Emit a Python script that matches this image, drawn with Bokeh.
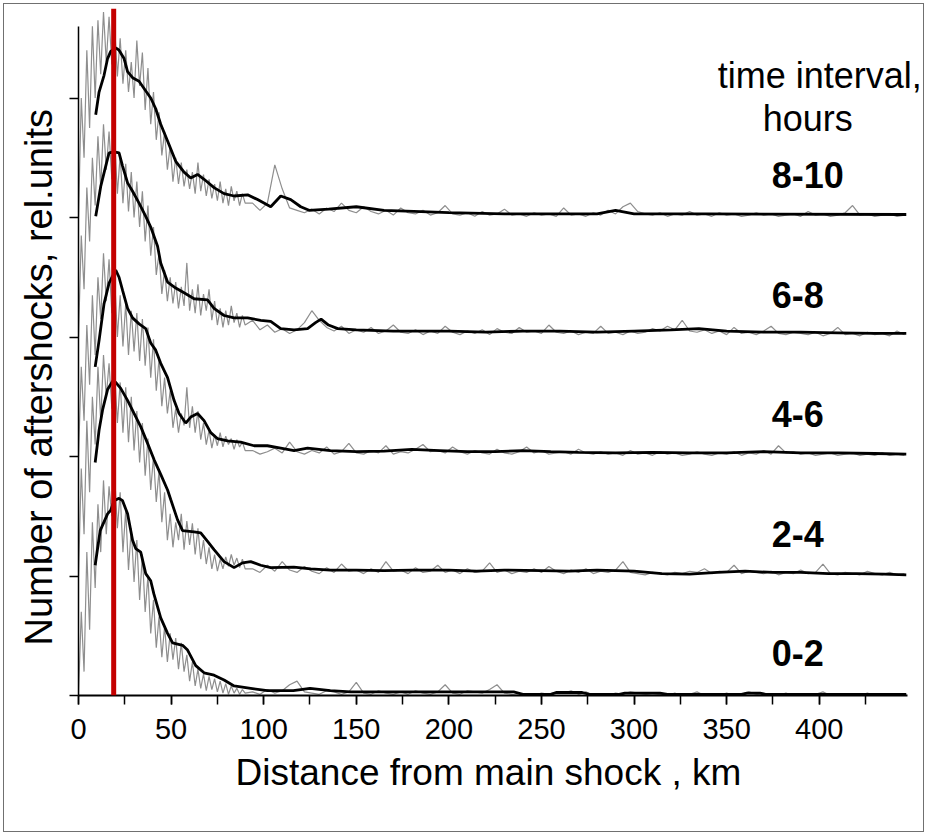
from bokeh.plotting import figure
from bokeh.layouts import column
from bokeh.models import Range1d, FixedTicker, Span, Label, Title, CustomJSTickFormatter
from bokeh.embed import file_html
from bokeh.resources import INLINE

# ---------------- data ----------------
INTERVALS = ["0-2", "2-4", "4-6", "6-8", "8-10"]
X_TICKS = [0, 50, 100, 150, 200, 250, 300, 350, 400]
X_MINOR = [0, 25, 50, 75, 100, 125, 150, 175, 200, 225, 250, 275, 300, 325, 350, 375, 400, 425]
Y_TICKS = [0, 1, 2, 3, 4, 5]
RED_KM = 19  # marked distance

# raw histograms (grey), values in hundredths of rel. units above each curve's baseline
GRAY_PEAK_KM = [i * 1.5 for i in range(61)]
GRAY_TAIL_KM = [94 + 4 * j for j in range(89)]

G0_PEAK = [0,70,20,120,55,145,90,160,120,180,135,175,150,185,140,170,120,155,105,140,95,130,80,118,70,100,52,80,40,66,32,58,28,52,30,48,22,44,20,34,12,28,8,22,6,18,4,16,5,14,3,12,2,10,1,8,2,6,1,5,2]
G0_TAIL = [3,1,5,2,4,9,12,3,2,1,4,3,1,3,11,2,1,4,2,1,3,1,4,2,1,3,9,2,1,4,3,2,5,9,2,1,0,1,0,2,1,3,2,4,1,3,0,1,0,2,1,3,2,1,0,1,0,2,0,1,3,0,1,0,2,0,1,3,1,0,1,0,2,0,1,0,1,3,0,1,0,1,0,2,0,1,0,1,0]
G1_PEAK = [0,90,35,130,70,150,110,175,130,185,150,178,140,170,128,162,120,158,112,150,105,138,95,128,84,115,72,100,62,88,45,70,30,52,24,45,30,52,22,46,26,44,18,40,14,30,10,24,6,18,4,14,6,16,8,18,9,15,7,14,6]
G1_TAIL = [6,3,9,4,12,5,3,8,4,2,7,3,10,4,5,2,6,3,12,4,5,2,7,3,4,9,3,5,2,6,3,4,11,3,5,2,4,3,6,3,8,4,2,5,3,6,2,4,3,5,12,3,2,1,3,2,1,3,2,4,3,6,2,4,3,9,2,4,3,2,4,1,3,2,5,2,3,10,2,1,3,2,1,4,2,1,3,1,2]
G2_PEAK = [0,75,30,110,60,135,85,150,115,170,130,165,120,150,100,135,92,128,85,122,88,120,80,115,76,108,66,98,55,82,42,66,36,55,24,40,20,36,26,58,24,42,20,38,14,28,10,22,7,18,9,20,8,17,10,15,6,14,8,12,5]
G2_TAIL = [5,2,4,7,3,12,4,2,5,3,8,2,4,11,3,2,5,3,9,2,4,3,6,10,4,5,3,8,4,2,5,3,2,6,3,2,4,8,3,5,2,3,4,2,6,3,2,4,2,3,1,5,2,3,1,4,2,3,1,2,4,2,1,3,2,4,1,3,2,5,2,9,3,4,2,3,1,2,3,1,2,3,1,2,1,3,1,2,1]
G3_PEAK = [0,85,40,125,80,150,110,168,125,178,140,172,132,165,120,152,112,145,105,138,100,130,92,122,80,110,68,92,52,70,36,56,30,50,28,46,24,42,26,62,22,40,20,44,18,36,22,40,14,30,10,24,8,22,10,26,12,20,8,18,10]
G3_TAIL = [14,6,10,4,7,3,6,12,22,14,8,5,9,3,6,4,8,3,5,10,4,3,6,2,5,3,9,4,2,5,3,6,2,7,4,3,8,4,5,3,10,4,3,5,2,4,3,9,3,4,2,5,3,4,7,5,9,6,14,5,4,6,3,5,2,8,3,4,2,5,9,3,2,4,3,2,4,1,3,8,2,3,1,4,2,3,1,5,2]
G4_PEAK = [0,100,50,140,75,160,100,165,120,172,130,168,128,160,118,150,112,140,105,130,100,148,110,138,90,125,78,105,65,88,52,72,40,60,30,50,28,46,26,40,24,38,20,46,22,36,18,32,16,28,14,30,12,24,10,26,14,22,10,20,12]
G4_TAIL = [12,6,12,44,24,8,6,4,7,3,8,5,12,6,4,9,5,3,6,2,8,4,3,6,2,4,10,3,2,4,1,5,2,3,7,2,3,1,4,2,3,1,8,2,3,1,4,2,6,3,9,12,5,3,2,4,1,3,2,5,2,3,1,4,2,3,1,2,4,2,3,1,2,3,1,5,2,3,1,2,4,10,2,3,1,2,3,1,2]

# smoothed curves (black), km and rel. units above baseline
B0_KM = [9,11.7,15.7,17.4,19.2,21.9,23.8,26.5,29.2,30.9,33.6,36.3,39,40.7,44.4,48.1,50.8,56.2,58.9,63.3,67.8,73.2,78.6,84,93,102,116,125,136,147,180,210,235,240,255,258,272,276,292,295,314,318,358,361,368,371,447]
B0_VAL = [1.09,1.38,1.52,1.55,1.63,1.65,1.63,1.52,1.30,1.23,1.20,1.02,0.96,0.85,0.65,0.52,0.44,0.42,0.38,0.25,0.19,0.17,0.13,0.08,0.06,0.04,0.04,0.06,0.04,0.03,0.03,0.03,0.03,0.01,0.01,0.025,0.025,0.01,0.01,0.02,0.02,0.01,0.01,0.02,0.02,0.01,0.01]
B1_KM = [9,11.1,13,15.7,18.4,20.1,22.8,26.5,30,33.6,37.3,40.9,44.4,48.1,49.8,53.5,56.2,62.4,66,69.7,73.2,78.6,84,88.6,93,98.4,103.8,116.3,125.4,136,150,165,180,200,215,230,250,265,280,300,315,330,345,360,375,390,405,420,435,447]
B1_VAL = [0.95,1.22,1.39,1.56,1.63,1.62,1.57,1.47,1.36,1.25,1.11,0.97,0.85,0.72,0.64,0.47,0.38,0.37,0.36,0.29,0.22,0.12,0.07,0.11,0.12,0.09,0.07,0.075,0.06,0.05,0.05,0.045,0.05,0.05,0.04,0.05,0.045,0.04,0.05,0.04,0.02,0.015,0.03,0.04,0.03,0.03,0.02,0.02,0.015,0.01]
B2_KM = [9,11.1,13.8,16.5,18.4,20.1,21.9,23.8,26.5,29.2,32.7,36.3,39,41.7,44.4,48.1,51.6,54.3,57.9,60.6,64.3,67.8,71.4,75,80.5,87.6,94.8,102,109.2,116.4,123.7,136,150,165,180,195,210,225,240,255,270,290,310,330,350,370,390,410,430,447]
B2_VAL = [0.75,0.97,1.28,1.45,1.51,1.56,1.50,1.39,1.24,1.16,1.11,1.07,0.95,0.89,0.78,0.66,0.47,0.36,0.28,0.33,0.36,0.30,0.20,0.15,0.13,0.12,0.09,0.09,0.07,0.05,0.07,0.05,0.04,0.045,0.06,0.05,0.04,0.04,0.05,0.04,0.035,0.03,0.035,0.03,0.03,0.04,0.03,0.03,0.025,0.02]
B3_KM = [9.3,12,14.7,16.5,19.2,21.9,23.8,26.5,29.2,32.7,36.3,39,42.7,44.4,48.1,52.5,57,62.4,69.7,73.2,78.6,84,91.3,98.4,103.8,109.2,116.4,123.7,128,131,135,140,150,170,200,220,240,260,280,300,320,335,350,370,390,410,430,447]
B3_VAL = [1.01,1.26,1.43,1.54,1.55,1.54,1.43,1.29,1.22,1.12,1.01,0.92,0.76,0.62,0.46,0.41,0.37,0.32,0.31,0.24,0.18,0.16,0.16,0.14,0.13,0.07,0.06,0.07,0.12,0.15,0.10,0.07,0.06,0.05,0.05,0.04,0.05,0.05,0.04,0.05,0.06,0.07,0.05,0.04,0.04,0.035,0.03,0.03]
B4_KM = [9.3,11.1,13.8,15.7,17.4,20.1,21.9,24.6,26.5,29.2,32.7,35.4,39,41.7,44.4,48.1,52.5,57,60.6,64.3,67.8,73.2,78.6,84,91.3,96.7,103.8,109.2,114.6,120,124.5,135,150,165,185,200,230,280,290,300,340,447]
B4_VAL = [0.86,1.05,1.19,1.33,1.39,1.42,1.40,1.33,1.22,1.17,1.14,1.08,1.00,0.91,0.78,0.64,0.47,0.38,0.33,0.36,0.32,0.25,0.20,0.18,0.19,0.15,0.09,0.18,0.15,0.09,0.06,0.07,0.09,0.06,0.05,0.04,0.03,0.03,0.06,0.03,0.03,0.025]

GRAY = [(G0_PEAK, G0_TAIL), (G1_PEAK, G1_TAIL), (G2_PEAK, G2_TAIL), (G3_PEAK, G3_TAIL), (G4_PEAK, G4_TAIL)]
BLACK = [(B0_KM, B0_VAL), (B1_KM, B1_VAL), (B2_KM, B2_VAL), (B3_KM, B3_VAL), (B4_KM, B4_VAL)]

FONT = "Liberation Sans"

# figure sits inside a thin frame drawn around the page (3px margin + 1px border)
p = figure(width=919, height=827, x_range=Range1d(0, 456.3), y_range=Range1d(0, 5.749),
           output_backend="svg", toolbar_location=None,
           min_border_left=74, min_border_right=0, min_border_top=4, min_border_bottom=136)
p.background_fill_color = "white"
p.border_fill_color = "white"
p.outline_line_color = None
p.xgrid.visible = False
p.ygrid.visible = False

gray_km = GRAY_PEAK_KM + GRAY_TAIL_KM
for i, (pk, tl) in enumerate(GRAY):
    vals = pk + tl
    p.line(gray_km[:len(vals)], [i + v / 100 for v in vals], line_color="#8e8e8e", line_width=1.2)

for i, (km, vals) in enumerate(BLACK):
    p.line(km, [i + v for v in vals], line_color="black", line_width=2.8)

p.add_layout(Span(location=RED_KM, dimension="height", line_color="#c40000", line_width=5))

# axes
xa = p.xaxis[0]
xa.ticker = FixedTicker(ticks=X_TICKS, minor_ticks=X_MINOR)
xa.bounds = (0, 447.8)
xa.axis_line_width = 2
xa.axis_line_color = "black"
xa.major_tick_out = 9
xa.major_tick_in = 0
xa.major_tick_line_width = 1.5
xa.minor_tick_out = 9
xa.minor_tick_in = 0
xa.minor_tick_line_width = 1.5
xa.minor_tick_line_color = "black"
xa.major_label_text_font = FONT
xa.major_label_text_font_size = "29px"
xa.major_label_text_color = "black"
xa.major_label_standoff = 14

ya = p.yaxis[0]
ya.ticker = FixedTicker(ticks=Y_TICKS, minor_ticks=[])
ya.bounds = (0, 5.6)
ya.formatter = CustomJSTickFormatter(code="return ''")
ya.axis_line_width = 1.5
ya.axis_line_color = "black"
ya.major_tick_out = 9
ya.major_tick_in = 0
ya.major_tick_line_width = 1.5

# axis titles (side titles so they can sit off-centre like the original)
p.add_layout(Title(text="Distance from main shock , km", align="left", offset=157, vertical_align="top",
                   text_font=FONT, text_font_size="37px", text_font_style="normal",
                   text_color="black", standoff=20), "below")
p.add_layout(Title(text="Number of aftershocks, rel.units", align="left", offset=50, vertical_align="top",
                   text_font=FONT, text_font_size="38px", text_font_style="normal",
                   text_color="black", standoff=16), "left")

for i, name in enumerate(INTERVALS):
    p.add_layout(Label(x=374.4, y=i + 0.355, text=name, text_align="left", text_baseline="alphabetic",
                       text_font=FONT, text_font_size="36px", text_font_style="bold", text_color="black"))

p.add_layout(Label(x=345.2, y=5.19, text="time interval,", text_align="left", text_baseline="alphabetic",
                   text_font=FONT, text_font_size="36px", text_color="black"))
p.add_layout(Label(x=369.5, y=4.83, text="hours", text_align="left", text_baseline="alphabetic",
                   text_font=FONT, text_font_size="36px", text_color="black"))

page = column(p, styles={"margin": "3px", "border": "1px solid #707070"})

open("out.html", "w").write(file_html(page, INLINE))
